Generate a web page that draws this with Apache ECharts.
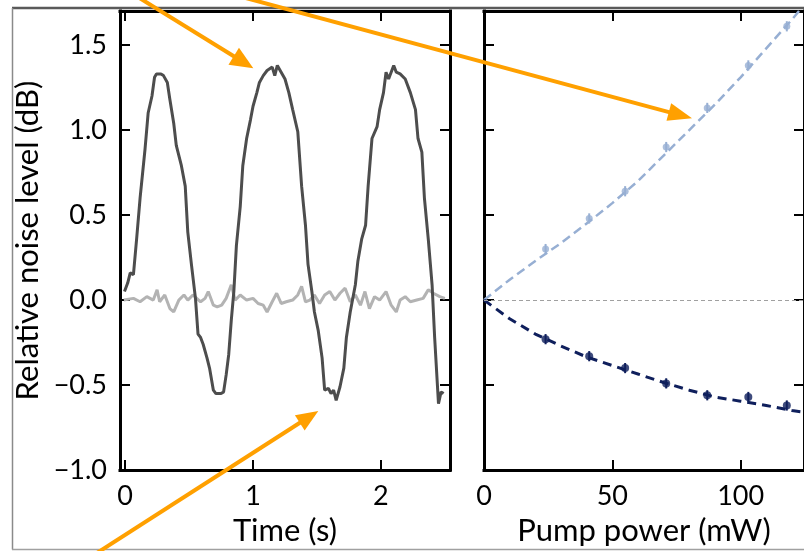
<!DOCTYPE html>
<html><head><meta charset="utf-8">
<script src="https://cdn.jsdelivr.net/npm/echarts@6/dist/echarts.min.js"></script>
<style>html,body{margin:0;padding:0;background:#fff}#c{width:804px;height:551px}</style>
</head><body><div id="c"></div>
<script>
// ---- Left panel: time traces ----
const signalTime = [-0.005,0.02,0.04,0.065,0.09,0.117,0.156,0.18,0.21,0.23,0.245,0.26,0.28,0.30,0.33,0.35,0.38,0.40,0.44,0.47,0.49,0.52,0.55,0.57,0.59,0.61,0.64,0.66,0.69,0.71,0.73,0.75,0.77,0.79,0.81,0.83,0.85,0.87,0.90,0.92,0.95,0.98,1.00,1.03,1.05,1.08,1.11,1.13,1.15,1.17,1.19,1.20,1.22,1.25,1.28,1.31,1.35,1.38,1.41,1.43,1.46,1.48,1.51,1.54,1.56,1.59,1.61,1.63,1.65,1.68,1.71,1.73,1.76,1.77,1.80,1.82,1.85,1.88,1.90,1.93,1.97,1.99,2.02,2.04,2.06,2.07,2.10,2.12,2.15,2.19,2.23,2.27,2.29,2.32,2.34,2.37,2.40,2.42,2.45,2.47,2.49];
const signalLevel = [0.05,0.10,0.16,0.15,0.36,0.60,0.89,1.10,1.20,1.31,1.33,1.34,1.33,1.32,1.28,1.18,1.04,0.91,0.79,0.67,0.40,0.20,0.01,-0.20,-0.22,-0.26,-0.34,-0.40,-0.53,-0.55,-0.55,-0.55,-0.54,-0.44,-0.32,-0.12,0.05,0.32,0.55,0.79,0.95,1.06,1.14,1.22,1.28,1.32,1.35,1.36,1.37,1.32,1.38,1.39,1.34,1.30,1.22,1.12,0.99,0.67,0.44,0.21,0.05,-0.07,-0.18,-0.34,-0.53,-0.52,-0.55,-0.53,-0.59,-0.51,-0.40,-0.22,-0.07,-0.03,0.09,0.23,0.36,0.44,0.67,0.95,1.02,1.12,1.22,1.34,1.30,1.31,1.38,1.34,1.33,1.30,1.22,1.12,0.95,0.87,0.60,0.36,0.09,-0.22,-0.61,-0.54,-0.55];
const noiseTime = [-0.01,0.065,0.117,0.17,0.22,0.25,0.27,0.31,0.35,0.38,0.42,0.46,0.49,0.53,0.59,0.625,0.65,0.69,0.72,0.755,0.79,0.83,0.86,0.90,0.95,1.00,1.04,1.08,1.11,1.15,1.185,1.22,1.26,1.31,1.35,1.38,1.41,1.445,1.48,1.52,1.56,1.60,1.64,1.68,1.72,1.76,1.80,1.84,1.875,1.91,1.95,1.99,2.04,2.08,2.12,2.15,2.19,2.23,2.28,2.33,2.37,2.41,2.46,2.50];
const noiseLevel = [0.00,0.01,-0.01,0.02,0.00,0.06,-0.01,0.03,-0.05,-0.07,0.00,0.03,0.00,0.03,-0.01,0.01,0.05,-0.03,-0.04,-0.03,0.01,0.09,0.00,0.03,0.00,0.01,-0.02,-0.03,-0.07,-0.01,0.04,-0.02,-0.01,0.00,0.03,0.08,-0.01,0.00,0.03,-0.02,0.03,0.05,0.00,0.04,0.07,-0.01,0.03,-0.03,0.05,-0.05,0.02,0.00,0.05,-0.03,-0.07,0.00,0.02,-0.01,0.00,0.01,0.06,0.04,0.02,0.01];

// ---- Right panel: pump power dependence ----
const powerPts = [24, 41, 55, 71, 87, 103, 118];
const upPts = [0.30, 0.48, 0.64, 0.90, 1.13, 1.38, 1.61];
const downPts = [-0.23, -0.33, -0.40, -0.49, -0.56, -0.57, -0.62];
const ptErr = [0.03, 0.03, 0.03, 0.03, 0.03, 0.03, 0.03];
const fitPower = [0, 10, 20, 30, 40, 50, 60, 70, 80, 90, 100, 110, 120, 125];
const fitUp = [0, 0.12, 0.23, 0.335, 0.45, 0.57, 0.70, 0.85, 1.00, 1.15, 1.31, 1.48, 1.65, 1.74];
const fitDown = [0, -0.11, -0.20, -0.27, -0.335, -0.385, -0.435, -0.485, -0.53, -0.57, -0.595, -0.62, -0.65, -0.66];

// ---- Tick labels ----
const timeTicks = [0, 1, 2];
const powerTicks = [0, 50, 100];
const levelTicks = [-1.0, -0.5, 0, 0.5, 1.0, 1.5];

const zip = (a, b) => a.map((v, i) => [v, b[i]]);
const FONT = 'Lato';
const fmt = v => Number(v).toFixed(1).replace('-', '\u2212');
const LIGHT = '#97afd3', DARK = '#0f1f5c', ORANGE = '#ffa000';

function ax(extra, ticks, showLabel, formatter) {
  return Object.assign({
    type: 'value',
    axisLine: { show: true, onZero: false, lineStyle: { color: '#000', width: 3, cap: 'square' } },
    axisTick: { show: true, inside: true, length: 10, customValues: ticks, lineStyle: { color: '#000', width: 2 } },
    axisLabel: { show: showLabel, customValues: ticks, color: '#000', fontSize: 27, fontFamily: FONT, margin: 13,
      formatter: formatter || (v => String(v)) },
    splitLine: { show: false },
    nameTextStyle: { fontSize: 31, fontFamily: FONT, color: '#000' }
  }, extra);
}

const chart = echarts.init(document.getElementById('c'), null, { renderer: 'canvas' });

function arrow(tail, tip, L, hw) {
  const dx = tip[0] - tail[0], dy = tip[1] - tail[1];
  const d = Math.hypot(dx, dy), ux = dx / d, uy = dy / d;
  const bx = tip[0] - L * ux, by = tip[1] - L * uy;
  return [
    { type: 'line', z: 100, shape: { x1: tail[0], y1: tail[1], x2: bx + 2 * ux, y2: by + 2 * uy }, style: { stroke: ORANGE, lineWidth: 4 } },
    { type: 'polygon', z: 100, shape: { points: [tip, [bx - hw * uy, by + hw * ux], [bx + hw * uy, by - hw * ux]] }, style: { fill: ORANGE } }
  ];
}

const option = {
  animation: false,
  backgroundColor: '#fff',
  grid: [
    { left: 120, top: 11, width: 330, height: 462 },
    { left: 484, top: 11, width: 328, height: 462 }
  ],
  xAxis: [
    ax({ gridIndex: 0, position: 'bottom', min: -0.04, max: 2.54, name: 'Time (s)', nameLocation: 'middle', nameGap: 44 }, timeTicks, true),
    ax({ gridIndex: 0, position: 'top', min: -0.04, max: 2.54 }, timeTicks, false),
    ax({ gridIndex: 1, position: 'bottom', min: 0, max: 124.7, name: 'Pump power (mW)', nameLocation: 'middle', nameGap: 44 }, powerTicks, true),
    ax({ gridIndex: 1, position: 'top', min: 0, max: 124.7 }, powerTicks, false)
  ],
  yAxis: [
    ax({ gridIndex: 0, position: 'left', min: -1.0, max: 1.7, name: 'Relative noise level (dB)', nameLocation: 'middle', nameGap: 77 }, levelTicks, true, fmt),
    ax({ gridIndex: 0, position: 'right', min: -1.0, max: 1.7 }, levelTicks, false),
    ax({ gridIndex: 1, position: 'left', min: -1.0, max: 1.7 }, levelTicks, false),
    ax({ gridIndex: 1, position: 'right', min: -1.0, max: 1.7 }, levelTicks, false)
  ],
  series: [
    { type: 'line', xAxisIndex: 0, yAxisIndex: 0, data: zip(noiseTime, noiseLevel), showSymbol: false, lineStyle: { color: '#b3b3b3', width: 3 }, z: 2 },
    { type: 'line', xAxisIndex: 0, yAxisIndex: 0, data: zip(signalTime, signalLevel), showSymbol: false, lineStyle: { color: '#4d4d4d', width: 3 }, z: 3 },
    { type: 'line', xAxisIndex: 2, yAxisIndex: 2, data: zip(fitPower, fitUp), showSymbol: false, clip: true,
      lineStyle: { color: LIGHT, width: 2.5, type: [9, 5] }, z: 2,
      markLine: { silent: true, symbol: 'none', label: { show: false }, lineStyle: { color: '#a0a0a0', width: 1, type: [4, 3] }, data: [{ yAxis: 0 }] } },
    { type: 'line', xAxisIndex: 2, yAxisIndex: 2, data: zip(fitPower, fitDown), showSymbol: false, clip: true,
      lineStyle: { color: DARK, width: 3, type: [9, 6] }, z: 2 },
    { type: 'custom', xAxisIndex: 2, yAxisIndex: 2, z: 3,
      data: powerPts.map((p, i) => [p, upPts[i] - ptErr[i], upPts[i] + ptErr[i]]),
      encode: { x: 0, y: [1, 2] },
      renderItem: (params, api) => {
        const a = api.coord([api.value(0), api.value(1)]), b = api.coord([api.value(0), api.value(2)]);
        return { type: 'line', shape: { x1: a[0], y1: a[1], x2: b[0], y2: b[1] }, style: { stroke: LIGHT, lineWidth: 2 } };
      } },
    { type: 'custom', xAxisIndex: 2, yAxisIndex: 2, z: 3,
      data: powerPts.map((p, i) => [p, downPts[i] - ptErr[i], downPts[i] + ptErr[i]]),
      encode: { x: 0, y: [1, 2] },
      renderItem: (params, api) => {
        const a = api.coord([api.value(0), api.value(1)]), b = api.coord([api.value(0), api.value(2)]);
        return { type: 'line', shape: { x1: a[0], y1: a[1], x2: b[0], y2: b[1] }, style: { stroke: DARK, lineWidth: 2 } };
      } },
    { type: 'scatter', xAxisIndex: 2, yAxisIndex: 2, data: zip(powerPts, upPts), symbol: 'circle', symbolSize: 7, itemStyle: { color: LIGHT }, z: 4 },
    { type: 'scatter', xAxisIndex: 2, yAxisIndex: 2, data: zip(powerPts, downPts), symbol: 'circle', symbolSize: 8, itemStyle: { color: DARK }, z: 4 }
  ],
  graphic: [
    { type: 'line', z: 90, shape: { x1: 12, y1: 8, x2: 804, y2: 8 }, style: { stroke: '#5a5a5a', lineWidth: 2.5 } },
    { type: 'line', z: 90, shape: { x1: 12.5, y1: 8, x2: 12.5, y2: 549.5 }, style: { stroke: '#8a8a8a', lineWidth: 1.5 } },
    { type: 'line', z: 90, shape: { x1: 12, y1: 549.5, x2: 804, y2: 549.5 }, style: { stroke: '#a0a0a0', lineWidth: 1.5 } },
    ...arrow([120, -14], [253.3, 68.3], 23, 10),
    ...arrow([216, -10], [692, 118.3], 24, 9),
    ...arrow([86, 560], [318.3, 411], 22, 9)
  ]
};
chart.setOption(option);
</script>
</body></html>
